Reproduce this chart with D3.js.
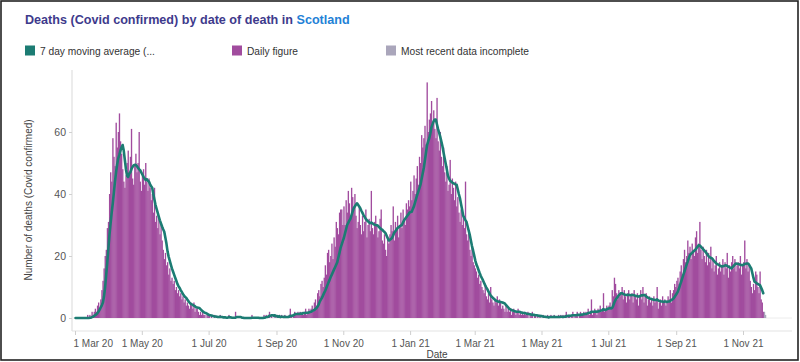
<!DOCTYPE html>
<html>
<head>
<meta charset="utf-8">
<script src="https://cdn.jsdelivr.net/npm/d3@7"></script>
<style>
  html, body { margin: 0; padding: 0; background: #fff; }
  svg { display: block; font-family: "Liberation Sans", Arial, sans-serif; }
</style>
</head>
<body>
<svg id="chart" width="800" height="362"></svg>
<script>
// ---------------- DATA ----------------
const titleMain = "Deaths (Covid confirmed) by date of death in ";
const titlePlace = "Scotland";
const legendLabels = ["7 day moving average (...", "Daily figure", "Most recent data incomplete"];
const yAxisTitle = "Number of deaths (Covid confirmed)";
const xAxisTitle = "Date";
const yTicks = [0, 20, 40, 60];
const xTickDates = ["2020-03-01","2020-05-01","2020-07-01","2020-09-01","2020-11-01",
  "2021-01-01","2021-03-01","2021-05-01","2021-07-01","2021-09-01","2021-11-01"];
const startDate = "2020-03-01";      // first day of the daily series
const incompleteDays = 2;            // last days shown as "most recent data incomplete"

// Daily figure, 1 Mar 2020 - 31 Dec 2020
const daily2020 = [
  // Mar
  0,0,0,0,0,0,0,0,0,0, 0,1,0,1,0,2,1,2,3,2, 4,5,3,6,9,12,16,20,22,29, 31,
  // Apr
  40,47,44,58,52,49,63,55,60,66, 57,53,48,44,42,46,50,54,47,52, 61,45,43,49,53,47,50,60,44,41,
  // May
  46,48,43,50,44,41,45,42,38,40, 34,42,31,33,29,32,27,30,25,22, 19,21,17,18,14,16,12,13,11,12, 9,
  // Jun
  10,8,9,7,8,6,7,5,6,4, 5,4,3,5,4,3,5,2,3,3, 2,1,2,1,2,1,1,0,1,1,
  // Jul
  1,0,1,0,0,1,0,0,0,0, 1,0,0,0,0,0,0,0,1,0, 0,0,0,0,2,0,0,0,0,0, 0,
  // Aug
  0,0,0,0,0,0,0,0,1,0, 0,0,0,0,0,0,0,0,0,1, 0,1,0,1,2,0,1,0,0,1, 0,
  // Sep
  1,0,1,0,1,0,0,1,0,0, 0,1,3,1,0,1,2,1,1,2, 1,2,1,2,1,2,3,1,2,3,
  // Oct
  2,3,4,2,5,6,4,8,9,7, 11,12,10,13,17,14,21,22,18,20, 24,19,26,23,31,29,27,34,35,35, 30,
  // Nov
  36,30,38,34,41,37,32,42,39,35, 40,33,29,31,36,30,27,33,28,31, 35,26,30,32,28,41,29,27,31,33,
  // Dec
  30,26,28,32,35,25,24,27,22,20, 26,24,27,30,28,36,25,31,29,33, 26,30,34,29,35,32,30,37,35,38, 36
];
// Daily figure, 1 Jan 2021 - 21 Nov 2021
const daily2021 = [
  // Jan
  44,38,41,46,40,45,49,43,52,50, 59,55,58,62,56,76,60,64,66,70, 63,67,61,58,71,57,54,60,52,49, 55,
  // Feb
  47,44,49,41,43,51,40,45,42,38, 44,36,39,34,31,35,30,33,29,44, 27,25,28,22,20,23,18,17,
  // Mar
  16,15,13,14,11,12,10,9,8,11, 7,6,8,5,10,6,5,4,6,5, 7,4,6,5,3,4,3,2,4,2, 3,
  // Apr
  2,3,1,2,3,2,1,2,3,1, 2,1,2,1,2,1,1,2,0,1, 1,2,0,1,1,0,1,0,1,0,
  // May
  0,1,0,0,0,1,0,0,1,0, 0,1,0,0,0,1,0,1,0,1, 0,1,2,0,1,1,0,1,2,0, 1,
  // Jun
  1,2,0,1,2,1,1,2,1,2, 1,3,1,2,6,1,2,3,2,1, 3,2,4,2,3,8,2,3,4,3,
  // Jul
  4,5,3,9,7,13,11,8,6,9, 7,8,10,6,9,7,5,8,9,6, 7,8,5,9,7,6,8,4,7,9, 6,
  // Aug
  10,5,7,8,4,6,7,5,6,4, 7,5,6,10,3,5,6,4,7,5, 6,4,5,7,6,9,5,8,9,11, 10,
  // Sep
  12,13,11,15,17,14,19,22,18,20, 25,21,23,19,24,22,20,26,28,21, 24,31,22,19,23,20,18,22,17,21,
  // Oct
  18,23,16,19,15,17,20,14,16,18, 15,17,19,14,18,16,21,13,17,15, 18,20,16,19,15,17,18,16,20,14, 17,
  // Nov
  18,25,16,19,15,17,12,10,8,11, 9,15,14,10,8,15,6,5,2,2,1
];
// 7 day moving average, 1 Mar 2020 - 31 Dec 2020
const avg2020 = [
  // Mar
  0,0,0,0,0,0,0,0,0,0, 0,0,0,0.1,0.1,0.3,0.4,0.7,0.9,1.2, 1.6,2.1,2.7,3.4,4.1,5,7,10,14,18, 22.5,
  // Apr
  27,30.5,34,37,40.5,44,47,49.5,51.5,52.6, 54,55,55.8,54,51,48,46,45.5,46.5,47, 48,48.7,49.2,49.4,49.4,49,48.5,48,47.7,47,
  // May
  46.3,45.6,45,44.5,44.8,44.3,44,43.2,42.5,42, 40,38.2,36.5,35.2,34,32.7,31.5,30.5,29.5,28.6, 27.8,26,24,21.5,19.8,18.5,17.2,16,15,14, 13,
  // Jun
  12,11,10.3,9.7,9,8.4,7.8,7.2,6.8,6.5, 6,5.5,5,4.6,4.4,4.2,4,3.8,3.5,3.4, 3.3,3.2,2.9,2.5,2.2,1.9,1.7,1.6,1.4,1.2,
  // Jul
  1,0.9,0.8,0.7,0.6,0.5,0.5,0.4,0.3,0.3, 0.4,0.3,0.3,0.2,0.2,0.2,0.1,0.1,0.3,0.2, 0.2,0.1,0.1,0.1,0.1,0.3,0.3,0.3,0.3,0.3, 0.1,
  // Aug
  0.1,0,0,0,0,0,0,0,0.1,0.1, 0.1,0.1,0.1,0.1,0.1,0,0,0,0,0.1, 0.1,0.3,0.3,0.4,0.7,0.7,0.9,0.9,0.7,0.9, 0.6,
  // Sep
  0.6,0.4,0.6,0.3,0.4,0.4,0.3,0.4,0.3,0.3, 0.3,0.4,0.7,0.7,0.7,0.9,1.1,1.3,1.3,1.3, 1.3,1.4,1.4,1.4,1.6,1.6,1.6,1.7,1.7,1.8,
  // Oct
  1.9,2,2.2,2.4,2.6,2.9,3.2,3.7,4.3,5.3, 5.9,6.5,7.3,8.1,8.8,9.7,10.6,11.5,12.3,13.2, 14,14.8,15.6,16.4,17.2,18,19.5,21,22.6,23.7, 24.8,
  // Nov
  25.8,27.2,28.6,30,30.7,31.4,32,33.2,34.3,35.4, 36,36.5,37,36.5,36,35.4,34.6,33.9,33.2,32.6, 32,31.6,31.2,30.9,30.6,30.8,30.6,30.3,30.1,30,
  // Dec
  29.9,29.8,29.4,29,28.7,28.5,28.1,27.8,27.4,26.6, 25.8,25,25.2,25.5,25.8,26.6,27.5,28,28.5,29, 29.3,29.6,29.8,30,30.8,31.5,32,32.5,33,33.5, 34
];
// 7 day moving average, 1 Jan 2021 - 19 Nov 2021
const avg2021 = [
  // Jan
  34.2,34.3,35.2,36,37.2,38.5,39.7,40.8,41.9,43, 44.8,46.6,48.4,50.8,53.3,55.8,57,58,59.5,61.5, 62.5,63.5,64,64,62.5,61,59.8,58.5,57,55.5, 53.5,
  // Feb
  51.6,49.8,48,46,45,44.3,44,43.7,43.5,43.3, 43.1,43,41.5,40,38.7,36.8,35,33,32.3,31.6, 31,29.6,28.2,26.8,25,23.2,21.8,20.2,
  // Mar
  18.6,17.3,16.5,15.5,14.5,13.6,12.9,12.2,11.4,10.6, 9.9,9.3,8.6,7.9,7.3,6.9,6.5,6.2,5.9,5.6, 5.4,5.3,5.2,5.2,5.1,5,4.8,4.7,4.2,3.8, 3.4,
  // Apr
  3,2.8,2.6,2.4,2.3,2.2,2.1,2,2,2, 1.9,1.8,1.7,1.6,1.6,1.5,1.4,1.3,1.3,1.2, 1.1,1.1,1,1,0.9,0.9,0.8,0.7,0.7,0.6,
  // May
  0.6,0.5,0.4,0.4,0.3,0.3,0.2,0.3,0.3,0.3, 0.3,0.4,0.3,0.3,0.3,0.3,0.3,0.4,0.4,0.3, 0.4,0.4,0.6,0.6,0.7,0.7,0.7,0.8,0.9,0.9, 0.9,
  // Jun
  0.9,1,1,1,1,1.1,1.1,1.2,1.3,1.3, 1.4,1.6,1.7,1.7,2,2,2,2,2.1,2, 2.1,2.2,2.3,2.4,2.5,2.9,2.6,2.6,2.8,3,
  // Jul
  3.1,3.2,3.1,3.2,4,5,5.8,6.3,6.8,7.3, 7.6,8,8,7.8,7.6,7.5,7.4,7.4,7.5,7.4, 7.3,7.4,7.4,7.3,7.2,7.1,7,6.9,7,7.2, 7.3,
  // Aug
  7.3,7.4,7.4,7,6.7,6.5,6.3,6.2,6.1,6, 5.9,5.8,5.8,6,5.7,5.5,5.4,5.3,5.3,5.2, 5.3,5.3,5.2,5.3,5.3,5.5,5.8,6,6.3,6.8, 7.3,
  // Sep
  7.9,8.5,9.5,10.6,11.7,12.8,13.9,15,16.1,17.2, 18.2,19.3,20.3,20.7,21,21.4,21.7,22,22.5,23, 23.5,23.4,23,22.6,22.2,21.8,21.4,21,20.5,20,
  // Oct
  19.6,19.4,19.3,18.9,18.4,18,17.6,17.4,17.2,17, 16.8,16.6,16.7,16.8,16.9,17,16.8,16.6,16.4,16.2, 16,16.4,16.8,17.2,17.6,17.5,17.4,17.3,17.2,17.1, 17,
  // Nov
  17.2,17.4,17.5,17.6,17.6,17.2,16.6,16,14.5,13, 11.7,11.5,11.2,11,10.8,10.6,9.8,9,8
];

// ---------------- COLOURS ----------------
const cAvg = "#1c7c73", cDaily = "#a14c9e", cIncomplete = "#aaa6bb";
const cTitle = "#3e3a8c", cPlace = "#2381d6";

// ---------------- BUILD ----------------
const parse = d3.utcParse("%Y-%m-%d");
const day0 = parse(startDate);
const dailyAll = daily2020.concat(daily2021);
const avgAll = avg2020.concat(avg2021);
const dailyRows = dailyAll.map((v, i) => ({
  date: d3.utcDay.offset(day0, i), value: v, incomplete: i >= dailyAll.length - incompleteDays
}));
const avgRows = avgAll.map((v, i) => ({ date: d3.utcDay.offset(day0, i), value: v }));

const svg = d3.select("#chart");
svg.append("rect").attr("x", 1).attr("y", 1).attr("width", 797).attr("height", 359)
  .attr("fill", "#fff").attr("stroke", "#222").attr("stroke-width", 1.6);

const plotLeft = 72, plotRight = 792, baseY = 318, topY = 70, axisY = 331;
const x = d3.scaleUtc().domain([parse("2020-03-01"), parse("2021-11-01")]).range([75, 743]);
const y = d3.scaleLinear().domain([0, 80]).range([baseY, topY]);

// Title
const title = svg.append("text").attr("x", 25).attr("y", 24)
  .attr("font-size", 12.6).attr("font-weight", "bold");
title.append("tspan").attr("fill", cTitle).text(titleMain);
title.append("tspan").attr("fill", cPlace).text(titlePlace);

// Legend
const legendX = [25, 232, 386];
const legendCols = [cAvg, cDaily, cIncomplete];
legendLabels.forEach((t, i) => {
  svg.append("rect").attr("x", legendX[i]).attr("y", 45.5).attr("width", 10).attr("height", 10)
    .attr("fill", legendCols[i]);
  svg.append("text").attr("x", legendX[i] + 15).attr("y", 54.5).attr("font-size", 10.2)
    .attr("fill", "#333").text(t);
});

// Axis lines
svg.append("line").attr("x1", plotLeft).attr("x2", plotLeft).attr("y1", topY).attr("y2", axisY)
  .attr("stroke", "#d9d9d9");
svg.append("line").attr("x1", plotLeft).attr("x2", plotRight).attr("y1", axisY).attr("y2", axisY)
  .attr("stroke", "#e3e3e3");
svg.append("line").attr("x1", plotLeft).attr("x2", plotRight).attr("y1", baseY).attr("y2", baseY)
  .attr("stroke", "#ececec");

// Y axis ticks/labels
const yAxis = d3.axisLeft(y).tickValues(yTicks).tickSize(3).tickPadding(3);
const gy = svg.append("g").attr("transform", `translate(${plotLeft},0)`).call(yAxis);
gy.select(".domain").remove();
gy.selectAll("line").attr("stroke", "#d0d0d0");
gy.selectAll("text").attr("font-size", 10.5).attr("fill", "#555")
  .attr("font-family", "Liberation Sans, Arial, sans-serif");

// X axis ticks/labels
const xAxis = d3.axisBottom(x).tickValues(xTickDates.map(parse))
  .tickFormat(d3.utcFormat("%-d %b %y")).tickSize(4).tickPadding(5);
const gx = svg.append("g").attr("transform", `translate(0,${axisY})`).call(xAxis);
gx.select(".domain").remove();
gx.selectAll("line").attr("stroke", "#cfcfcf");
gx.selectAll("text").attr("font-size", 10).attr("fill", "#555")
  .attr("font-family", "Liberation Sans, Arial, sans-serif");
// first label sits inside the plot (left-aligned at its tick)
gx.selectAll(".tick text").filter((d, i) => i === 0).attr("text-anchor", "start").attr("x", -2);

// Axis titles
svg.append("text").attr("transform", "translate(32,200) rotate(-90)")
  .attr("text-anchor", "middle").attr("font-size", 10).attr("fill", "#444").text(yAxisTitle);
svg.append("text").attr("x", 437).attr("y", 358).attr("text-anchor", "middle")
  .attr("font-size", 10).attr("fill", "#444").text(xAxisTitle);

// Bars
svg.append("g").selectAll("rect").data(dailyRows).join("rect")
  .attr("x", d => x(d.date))
  .attr("width", d => x(d3.utcDay.offset(d.date, 1)) - x(d.date) + 0.25)
  .attr("y", d => y(d.value))
  .attr("height", d => baseY - y(d.value))
  .attr("fill", d => d.incomplete ? cIncomplete : cDaily);

// Moving average line
const line = d3.line().x(d => x(d.date) + 0.55).y(d => y(d.value));
svg.append("path").datum(avgRows).attr("d", line)
  .attr("fill", "none").attr("stroke", cAvg).attr("stroke-width", 2.6)
  .attr("stroke-linejoin", "round").attr("stroke-linecap", "round");
</script>
</body>
</html>
